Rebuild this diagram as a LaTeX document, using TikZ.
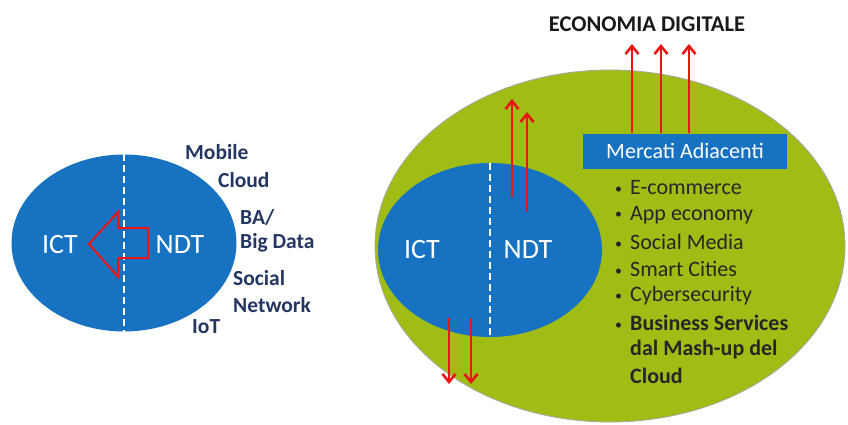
\documentclass[tikz,border=0pt]{standalone}
\usepackage{fontspec}
\setmainfont{Carlito}
\usetikzlibrary{shapes.geometric,arrows.meta}
\definecolor{eblue}{RGB}{24,114,194}
\definecolor{egreen}{RGB}{160,189,22}
\definecolor{navy}{RGB}{36,54,98}
\definecolor{ared}{RGB}{235,20,20}
\newcommand{\mybul}{\makebox[15pt][l]{\raisebox{1.5pt}{\mdseries\fontsize{14}{14}\selectfont •}}}
\tikzset{
  blob/.style={ellipse, draw=none, fill=eblue, inner sep=0pt},
  divider/.style={white, line width=1.6pt, dash pattern=on 7pt off 4pt},
  intext/.style={white, font=\fontsize{28}{30}\selectfont},
  lab/.style={navy, font=\bfseries\fontsize{21.5}{23}\selectfont, anchor=west, inner sep=0pt},
  redarr/.style={ared, line width=2.6pt, -{Straight Barb[length=8pt,width=13pt,line width=2.6pt]}},
  bul/.style={anchor=west, inner sep=0pt, font=\fontsize{22}{24}\selectfont, text=black!85},
  bulb/.style={bul, font=\bfseries\fontsize{22}{24}\selectfont},
}
\begin{document}
\begin{tikzpicture}[x=1pt,y=-1pt]
\useasboundingbox (0,0) rectangle (848,425);
\fill[white] (0,0) rectangle (848,425);
% ---------- left ----------
\node[blob, minimum width=225pt, minimum height=177pt] (L) at (124,243) {};
\draw[divider] (L.north) -- (L.south);
\node[intext] (lict) at (60,245) {ICT};
\node[intext] (lndt) at (180,245) {NDT};
\draw[ared, line width=2pt, line join=miter] (89,244) -- (118,212) -- (118,228) -- (148,228) -- (148,258) -- (118,258) -- (118,277) -- cycle;
\node[lab] (mob) at (185,152) {Mobile};
\node[lab] (clo) at (218,180) {Cloud};
\node[lab] (ba) at (240,217) {BA/};
\node[lab] (bd) at (240,243) {Big Data};
\node[lab] (soc) at (233,278) {Social};
\node[lab] (net) at (233,305) {Network};
\node[lab] (iot) at (192,327) {IoT};
% ---------- right ----------
\node[ellipse, draw=gray!70, line width=0.8pt, fill=egreen, minimum width=470pt, minimum height=352pt, inner sep=0pt] (G) at (610,246) {};
\node[blob, minimum width=224pt, minimum height=174pt] (R) at (490,250) {};
\draw[divider] (R.north) -- (R.south);
\node[intext] (rict) at (422,250) {ICT};
\node[intext] (rndt) at (528,250) {NDT};
% up arrows from inner
\coordinate (u1s) at (512,197); \coordinate (u1e) at (512,99);
\coordinate (u2s) at (527,212); \coordinate (u2e) at (527,112);
\draw[redarr] (u1s) -- (u1e);
\draw[redarr] (u2s) -- (u2e);
% down arrows
\coordinate (d1s) at (449,318); \coordinate (d1e) at (449,384);
\coordinate (d2s) at (471,318); \coordinate (d2e) at (471,384);
\draw[redarr] (d1s) -- (d1e);
\draw[redarr] (d2s) -- (d2e);
% Mercati box
\node[fill=eblue, minimum width=204pt, minimum height=35pt, inner sep=0pt, text=white, font=\fontsize{22}{24}\selectfont] (M) at (685,151) {Mercati Adiacenti};
\node[font=\bfseries\fontsize{22.5}{24}\selectfont, text=black!90] (E) at (647,24) {ECONOMIA DIGITALE};
\foreach \x/\n in {632/a,661/b,689/c}{
  \coordinate (m\n) at (\x,133);
  \coordinate (e\n) at (\x,44);
  \draw[redarr] (m\n) -- (e\n);
}
% bullets
\node[bul] (b1) at (615,188) {\mybul E-commerce};
\node[bul] (b2) at (615,215) {\mybul App economy};
\node[bul] (b3) at (615,242) {\mybul Social Media};
\node[bul] (b4) at (615,269) {\mybul Smart Cities};
\node[bul] (b5) at (615,296) {\mybul Cybersecurity};
\node[bulb] (b6) at (615,323) {\mybul Business Services};
\node[bulb] (b7) at (630,350) {dal Mash-up del};
\node[bulb] (b8) at (630,376) {Cloud};
\end{tikzpicture}
\end{document}
